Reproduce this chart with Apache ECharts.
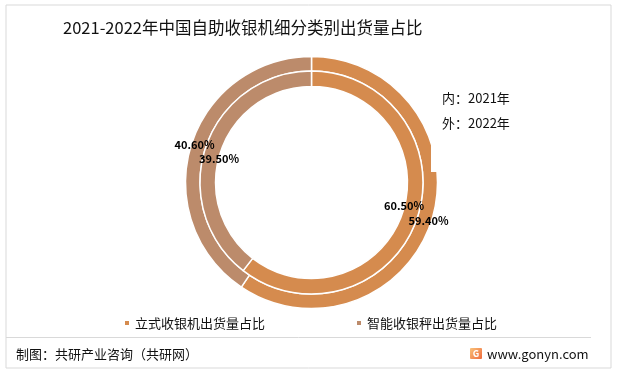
<!DOCTYPE html>
<html>
<head>
<meta charset="utf-8">
<script src="https://cdn.jsdelivr.net/npm/echarts@6/dist/echarts.min.js"></script>
<style>
html,body{margin:0;padding:0;background:#fff;}
#chart{width:620px;height:378px;}
</style>
</head>
<body>
<div id="chart"></div>
<script>
var titleText = '2021-2022年中国自助收银机细分类别出货量占比';
var categories = ['立式收银机出货量占比', '智能收银秤出货量占比'];
var colors = ['#D58B4E', '#BC8B6B'];
var values2021 = [60.5, 39.5];  // inner ring
var values2022 = [59.4, 40.6];  // outer ring
var ringNotes = ['内：2021年', '外：2022年'];
var sourceText = '制图：共研产业咨询（共研网）';
var siteText = 'www.gonyn.com';

var FONT = '"Noto Sans CJK SC", "Noto Sans", sans-serif';

function toData(vals) {
  return categories.map(function (c, i) {
    return { name: c, value: vals[i], itemStyle: { color: colors[i] } };
  });
}
function toLabelData(vals) {
  return categories.map(function (c, i) {
    return { name: c, value: vals[i] };
  });
}
function pctFmt(p) { return p.value.toFixed(2) + '%'; }

var chart = echarts.init(document.getElementById('chart'), null, { renderer: 'canvas' });
var center = [311.5, 182.5];
var labelStyle = { show: true, position: 'inside', formatter: pctFmt, color: '#000', fontSize: 11, fontWeight: 'bold', fontFamily: FONT };

chart.setOption({
  backgroundColor: '#fff',
  animation: false,
  title: {
    text: titleText, left: 63, top: 18, padding: 0,
    textStyle: { fontSize: 16.5, fontWeight: 'normal', color: '#111', fontFamily: FONT, lineHeight: 20 }
  },
  legend: {
    data: categories.map(function (c, i) { return { name: c, itemStyle: { color: colors[i] } }; }),
    left: 'center', top: 310, icon: 'rect', itemWidth: 6, itemHeight: 6, itemGap: 90,
    textStyle: { fontSize: 13, color: '#111', fontFamily: FONT, lineHeight: 16 },
    selectedMode: false
  },
  series: [
    {
      type: 'pie', name: '2022', center: center, radius: [111.5, 126], startAngle: 90, clockwise: true,
      silent: true, label: { show: false }, labelLine: { show: false },
      itemStyle: { borderColor: '#fff', borderWidth: 1.5 },
      data: toData(values2022), z: 2
    },
    {
      type: 'pie', name: '2021', center: center, radius: [96, 111.5], startAngle: 90, clockwise: true,
      silent: true, label: { show: false }, labelLine: { show: false },
      itemStyle: { borderColor: '#fff', borderWidth: 1.5 },
      data: toData(values2021), z: 2
    },
    {
      type: 'pie', name: '2022label', center: center, radius: [112, 128], startAngle: 89, clockwise: true,
      silent: true, avoidLabelOverlap: false, labelLayout: { hideOverlap: false },
      label: labelStyle, labelLine: { show: false },
      itemStyle: { color: 'rgba(0,0,0,0)', borderWidth: 0 },
      data: toLabelData(values2022), z: 5
    },
    {
      type: 'pie', name: '2021label', center: center, radius: [80, 105], startAngle: 94.5, clockwise: true,
      silent: true, avoidLabelOverlap: false, labelLayout: { hideOverlap: false },
      label: labelStyle, labelLine: { show: false },
      itemStyle: { color: 'rgba(0,0,0,0)', borderWidth: 0 },
      data: toLabelData(values2021), z: 5
    }
  ],
  graphic: [
    { type: 'rect', z: 50, shape: { x: 6, y: 5, width: 605, height: 363 }, style: { fill: 'none', stroke: '#d9d9d9', lineWidth: 1 } },
    { type: 'rect', z: 60, shape: { x: 431, y: 80, width: 110, height: 92 }, style: { fill: '#fff' } },
    { type: 'text', z: 70, x: 442, y: 98.5, style: { text: ringNotes[0], fontSize: 13, fontFamily: FONT, fill: '#111', verticalAlign: 'middle' } },
    { type: 'text', z: 70, x: 442, y: 123, style: { text: ringNotes[1], fontSize: 13, fontFamily: FONT, fill: '#111', verticalAlign: 'middle' } },
    { type: 'line', z: 50, shape: { x1: 6, y1: 337.5, x2: 591, y2: 337.5 }, style: { stroke: '#d9d9d9', lineWidth: 1 } },
    { type: 'text', z: 70, x: 16, y: 354, style: { text: sourceText, fontSize: 13, fontFamily: FONT, fill: '#111', verticalAlign: 'middle' } },
    { type: 'rect', z: 70, shape: { x: 470, y: 348, width: 12, height: 11, r: 1 },
      style: { fill: new echarts.graphic.LinearGradient(0, 0, 1, 1, [{ offset: 0, color: '#f9c27a' }, { offset: 1, color: '#ef6a3c' }]) } },
    { type: 'text', z: 71, x: 476, y: 353.5, style: { text: 'G', fontSize: 9, fontWeight: 'bold', fontFamily: FONT, fill: '#fff', align: 'center', verticalAlign: 'middle' } },
    { type: 'text', z: 70, x: 487, y: 354, style: { text: siteText, fontSize: 13, fontFamily: FONT, fill: '#111', verticalAlign: 'middle' } }
  ]
});
</script>
</body>
</html>
